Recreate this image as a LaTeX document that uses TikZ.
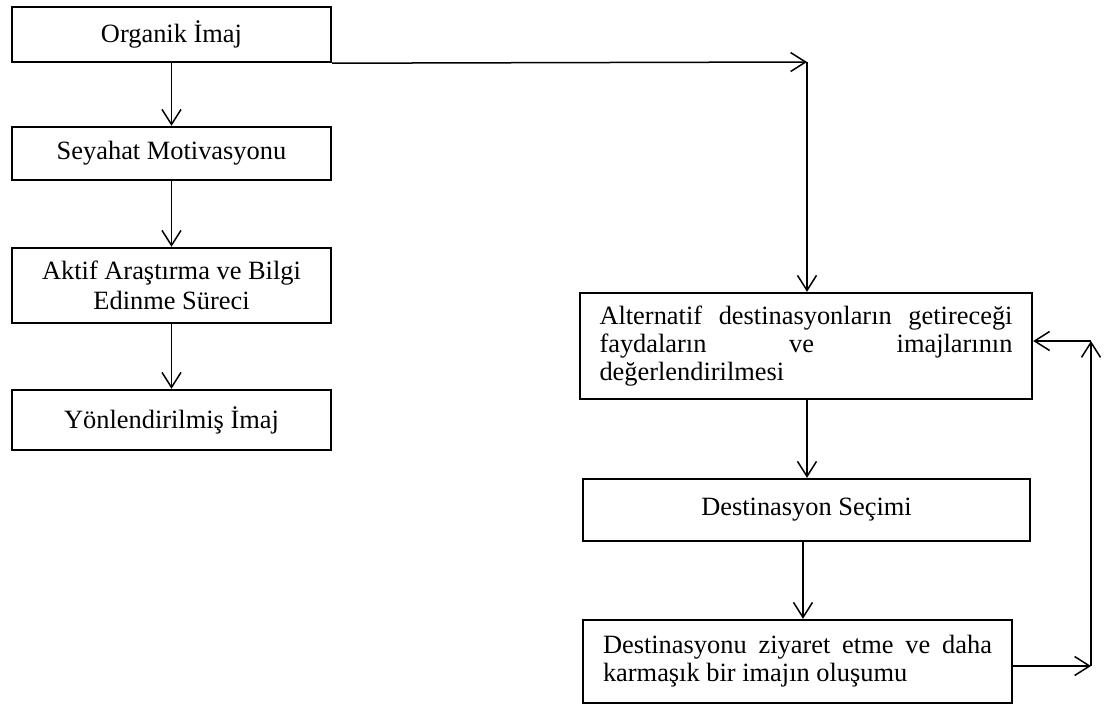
\documentclass[tikz,border=0pt]{standalone}
\usepackage{fontspec}
\setmainfont{Liberation Serif}
\usetikzlibrary{arrows.meta}

\begin{document}
\begin{tikzpicture}[
  x=0.5pt,
  y=-0.5pt,
  line join=miter,
  font=\fontsize{13.2}{14}\selectfont,
  stage/.style={draw=black,line width=1.2pt,inner sep=0pt,align=center},
  textstage/.style={draw=black,line width=1.2pt,inner xsep=9pt,inner ysep=0pt,align=justify},
  flow/.style={draw=black,line width=0.75pt,-{Straight Barb[length=7.5pt,width=9.5pt,line width=0.75pt]}}
]
  \useasboundingbox (0,0) rectangle (1105,707);

  % Left column: image formation before travel.
  \node[stage,minimum width=159.5pt,minimum height=27.5pt] (org) at (171.5,34.5) {Organik İmaj};
  \node[stage,minimum width=159.5pt,minimum height=26.5pt] (mot) at (171.5,153.5) {Seyahat Motivasyonu};
  \node[stage,minimum width=159.5pt,minimum height=37.5pt,font=\fontsize{13.2}{15}\selectfont] (ara) at (171.5,285.5) {Aktif Araştırma ve Bilgi\\Edinme Süreci};
  \node[stage,minimum width=159.5pt,minimum height=30pt] (yon) at (171.5,420) {Yönlendirilmiş İmaj};

  % Right column: evaluation, choice and visit.
  \node[textstage,text width=206.5pt,minimum width=226pt,minimum height=53pt] (alt) at (806,346)
    {Alternatif destinasyonların getireceği\linebreak faydaların ve imajlarının\linebreak değerlendirilmesi};
  \node[stage,minimum width=223.5pt,minimum height=31pt] (sec) at (806.5,510) {Destinasyon Seçimi};
  \node[textstage,text width=194.5pt,minimum width=214.5pt,minimum height=41.5pt] (ziy) at (797.5,661.5)
    {Destinasyonu ziyaret etme ve daha\linebreak karmaşık bir imajın oluşumu};

  \coordinate (turn) at (807,62);
  \coordinate (loopdown) at (1091,666);
  \coordinate (loopup) at (1091,341);

  \draw[flow] (org) -- (mot);
  \draw[flow] (mot) -- (ara);
  \draw[flow] (ara) -- (yon);

  % Organic image feeds straight into the evaluation.
  \draw[flow] (org.south east) -- (turn);
  \draw[flow] (turn) -- (turn |- alt.north);

  \draw[flow] (alt.south -| turn) -- (sec.north -| turn);
  \draw[flow] (sec.south -| 803,0) -- (ziy.north -| 803,0);

  % Feedback loop after the visit.
  \draw[flow] (ziy.east |- loopdown) -- (loopdown);
  \draw[flow] (loopdown) -- (loopup);
  \draw[flow] (loopup) -- (alt.east |- loopup);
\end{tikzpicture}
\end{document}
